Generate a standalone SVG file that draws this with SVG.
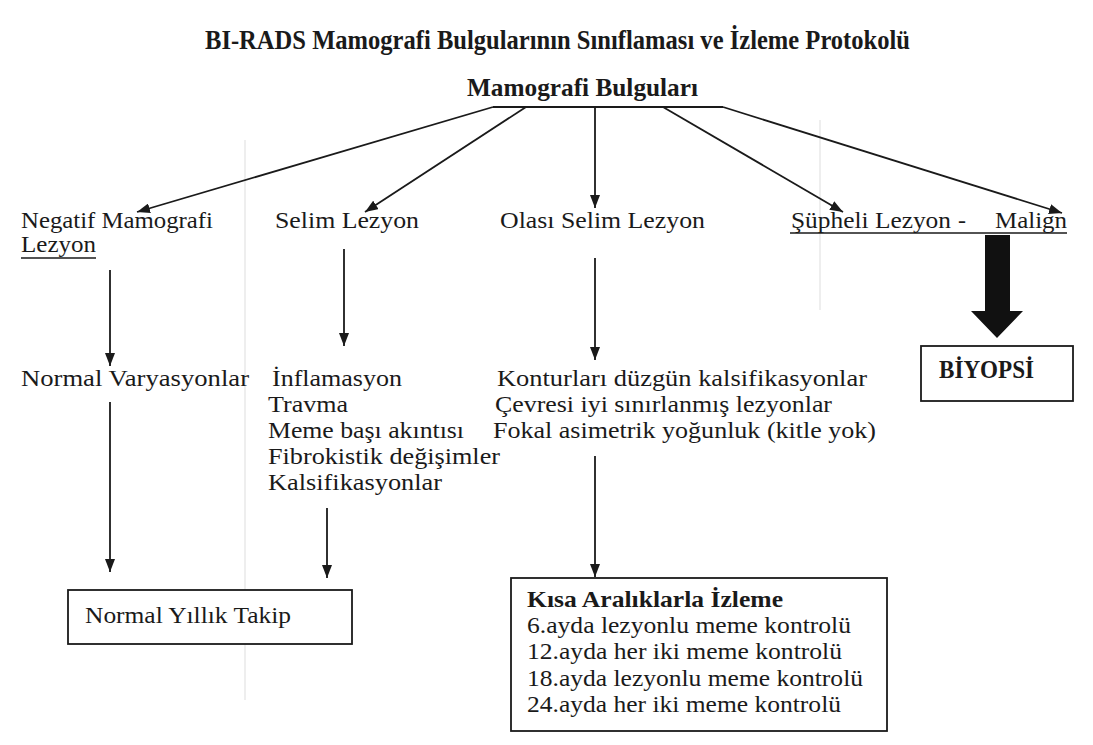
<svg xmlns="http://www.w3.org/2000/svg" width="1093" height="745" viewBox="0 0 1093 745">
<style>
text{font-family:"Liberation Serif","Times New Roman",serif;fill:#1a1a1a;font-size:24px}
.b{font-weight:bold;font-size:26px}
.k{font-weight:bold;font-size:24px}
.t{font-weight:bold;font-size:27px}
.c{stroke:#1a1a1a;stroke-width:1.8;fill:none}
.box{fill:#fff;stroke:#1a1a1a;stroke-width:1.8}
.u{stroke:#1a1a1a;stroke-width:1.5}
.faint{stroke:#c8c8c8;stroke-width:1;opacity:.6}
</style>
<defs>
<marker id="ah" viewBox="0 0 13 10" refX="13" refY="5" markerWidth="13" markerHeight="10" orient="auto" markerUnits="userSpaceOnUse">
<path d="M0,0 L13,5 L0,10 Z" fill="#1a1a1a"/>
</marker>
</defs>
<rect width="1093" height="745" fill="#fff"/>
<g id="artifacts">
<line class="faint" x1="245" y1="140" x2="245" y2="700"/>
<line class="faint" x1="820" y1="120" x2="820" y2="310"/>
</g>
<g id="title"><text class="t" x="205" y="49" textLength="705" lengthAdjust="spacingAndGlyphs">BI-RADS Mamografi Bulgularının Sınıflaması ve İzleme Protokolü</text></g>
<g id="root"><text class="b" x="467" y="96" textLength="231" lengthAdjust="spacingAndGlyphs">Mamografi Bulguları</text></g>
<g id="connectors">
<line class="c" x1="493" y1="107" x2="723" y2="107"/>
<line class="c" x1="493" y1="107" x2="137" y2="212" marker-end="url(#ah)"/>
<line class="c" x1="526" y1="107" x2="365" y2="212" marker-end="url(#ah)"/>
<line class="c" x1="595" y1="107" x2="595" y2="208" marker-end="url(#ah)"/>
<line class="c" x1="663" y1="107" x2="843" y2="212" marker-end="url(#ah)"/>
<line class="c" x1="723" y1="107" x2="1062" y2="213" marker-end="url(#ah)"/>
<line class="c" x1="110" y1="270" x2="110" y2="366" marker-end="url(#ah)"/>
<line class="c" x1="344" y1="249" x2="344" y2="346" marker-end="url(#ah)"/>
<line class="c" x1="595" y1="258" x2="595" y2="360" marker-end="url(#ah)"/>
<line class="c" x1="110" y1="402" x2="110" y2="572" marker-end="url(#ah)"/>
<line class="c" x1="327" y1="508" x2="327" y2="578" marker-end="url(#ah)"/>
<line class="c" x1="595" y1="456" x2="595" y2="577" marker-end="url(#ah)"/>
<path d="M985,235 L1010,235 L1010,311 L1023,311 L997,338 L971,311 L985,311 Z" fill="#111"/>
</g>
<g id="negatif"><text x="21" y="228" textLength="192" lengthAdjust="spacingAndGlyphs">Negatif Mamografi</text><text x="21" y="252" textLength="75" lengthAdjust="spacingAndGlyphs">Lezyon</text><line class="u" x1="21" y1="258" x2="96" y2="258"/></g>
<g id="selim"><text x="275" y="228" textLength="144" lengthAdjust="spacingAndGlyphs">Selim Lezyon</text></g>
<g id="olasi"><text x="500" y="228" textLength="205" lengthAdjust="spacingAndGlyphs">Olası Selim Lezyon</text></g>
<g id="supheli"><text x="791" y="228" textLength="160" lengthAdjust="spacingAndGlyphs">Şüpheli Lezyon</text><text x="958" y="228">-</text><text x="995" y="228" textLength="72" lengthAdjust="spacingAndGlyphs">Malign</text><line class="u" x1="790" y1="233" x2="1067" y2="233"/></g>
<g id="normalvar"><text x="21" y="386" textLength="228" lengthAdjust="spacingAndGlyphs">Normal Varyasyonlar</text></g>
<g id="selimlist">
<text x="272" y="386" textLength="130" lengthAdjust="spacingAndGlyphs">İnflamasyon</text>
<text x="268" y="412" textLength="80" lengthAdjust="spacingAndGlyphs">Travma</text>
<text x="268" y="438" textLength="196" lengthAdjust="spacingAndGlyphs">Meme başı akıntısı</text>
<text x="268" y="464" textLength="232" lengthAdjust="spacingAndGlyphs">Fibrokistik değişimler</text>
<text x="268" y="490" textLength="174" lengthAdjust="spacingAndGlyphs">Kalsifikasyonlar</text>
</g>
<g id="olasilist">
<text x="497" y="386" textLength="370" lengthAdjust="spacingAndGlyphs">Konturları düzgün kalsifikasyonlar</text>
<text x="495" y="412" textLength="337" lengthAdjust="spacingAndGlyphs">Çevresi iyi sınırlanmış lezyonlar</text>
<text x="493" y="438" textLength="383" lengthAdjust="spacingAndGlyphs">Fokal asimetrik yoğunluk (kitle yok)</text>
</g>
<g id="biyopsi"><rect class="box" x="921" y="346" width="152" height="55"/><text class="b" x="939" y="378" textLength="95" lengthAdjust="spacingAndGlyphs">BİYOPSİ</text></g>
<g id="yillik"><rect class="box" x="68" y="590" width="284" height="54"/><text x="85" y="623" textLength="206" lengthAdjust="spacingAndGlyphs">Normal Yıllık Takip</text></g>
<g id="kisa"><rect class="box" x="511" y="578" width="376" height="153"/>
<text class="k" x="527" y="607" textLength="256" lengthAdjust="spacingAndGlyphs">Kısa Aralıklarla İzleme</text>
<text x="527" y="633" textLength="324" lengthAdjust="spacingAndGlyphs">6.ayda lezyonlu meme kontrolü</text>
<text x="527" y="659" textLength="315" lengthAdjust="spacingAndGlyphs">12.ayda her iki meme kontrolü</text>
<text x="527" y="686" textLength="336" lengthAdjust="spacingAndGlyphs">18.ayda lezyonlu meme kontrolü</text>
<text x="527" y="712" textLength="314" lengthAdjust="spacingAndGlyphs">24.ayda her iki meme kontrolü</text>
</g>
</svg>
